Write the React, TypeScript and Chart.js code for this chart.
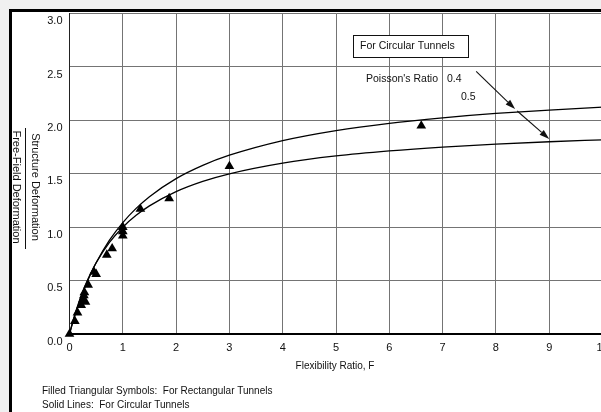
import React, { useEffect, useRef } from 'react';
import { Chart, registerables } from 'chart.js';

Chart.register(...registerables);

// ---- data ----
const flexRatioF = [0, 0.05, 0.1, 0.2, 0.3, 0.4, 0.5, 0.75, 1, 1.25, 1.5, 2, 2.5, 3, 4, 5, 6, 7, 8, 9, 10];
const circularNu04 = [0, 0.089, 0.171, 0.32, 0.45, 0.565, 0.667, 0.878, 1.043, 1.176, 1.286, 1.455, 1.579, 1.674, 1.811, 1.905, 1.973, 2.024, 2.065, 2.097, 2.124];
const circularNu05 = [0, 0.095, 0.182, 0.333, 0.462, 0.571, 0.667, 0.857, 1.0, 1.111, 1.2, 1.333, 1.429, 1.5, 1.6, 1.667, 1.714, 1.75, 1.778, 1.8, 1.818];

const rectF = [0.0, 0.1, 0.15, 0.22, 0.25, 0.27, 0.28, 0.3, 0.35, 0.46, 0.5, 0.7, 0.8, 1.0, 1.0, 1.0, 1.33, 1.87, 3.0, 6.6];
const rectR = [0.0, 0.12, 0.2, 0.27, 0.32, 0.36, 0.39, 0.3, 0.46, 0.58, 0.56, 0.74, 0.8, 0.92, 0.96, 1.0, 1.17, 1.27, 1.57, 1.95];

const xTickValues = [0, 1, 2, 3, 4, 5, 6, 7, 8, 9, 10];
const yTickValues = [0, 0.5, 1.0, 1.5, 2.0, 2.5, 3.0];

const yTitleNumerator = 'Structure Deformation';
const yTitleDenominator = 'Free-Field Deformation';
const xTitle = 'Flexibility Ratio, F';
const footerLines = ['Filled Triangular Symbols:  For Rectangular Tunnels', 'Solid Lines:  For Circular Tunnels'];
const boxLabel = 'For Circular Tunnels';
const poissonLabel = "Poisson's Ratio";
const nuLabels = ['0.4', '0.5'];
// arrow anchor points in data units [F, ratio]
const arrowStart = [7.63, 2.46];
const arrowTip1 = [8.36, 2.106];
const arrowStart2 = [8.4, 2.088];
const arrowTip2 = [9.0, 1.827];

const FONT = '"Liberation Sans", Arial, Helvetica, sans-serif';

function drawArrow(ctx: CanvasRenderingContext2D, x1: number, y1: number, x2: number, y2: number) {
  const ang = Math.atan2(y2 - y1, x2 - x1);
  const len = 10;
  const half = 3.2;
  const bx = x2 - Math.cos(ang) * len;
  const by = y2 - Math.sin(ang) * len;
  ctx.beginPath();
  ctx.moveTo(x1, y1);
  ctx.lineTo(bx, by);
  ctx.stroke();
  ctx.beginPath();
  ctx.moveTo(x2, y2);
  ctx.lineTo(bx + Math.sin(ang) * half, by - Math.cos(ang) * half);
  ctx.lineTo(bx - Math.sin(ang) * half, by + Math.cos(ang) * half);
  ctx.closePath();
  ctx.fill();
}

const decorPlugin = {
  id: 'figureDecor',
  beforeDraw(chart: any) {
    const { ctx, width, height } = chart;
    ctx.save();
    ctx.fillStyle = '#f0f0f0';
    ctx.fillRect(0, 0, width, height);
    ctx.fillStyle = '#ffffff';
    ctx.fillRect(1, 1, width, height);
    ctx.restore();
  },
  afterDraw(chart: any) {
    const { ctx, width, height } = chart;
    const xs = chart.scales.x;
    const ys = chart.scales.y;
    const px = (v: number) => xs.getPixelForValue(v);
    const py = (v: number) => ys.getPixelForValue(v);
    ctx.save();
    // frame
    ctx.fillStyle = '#000';
    ctx.fillRect(1, 1, 3, height);
    ctx.fillRect(1, 1, width, 3);

    ctx.fillStyle = '#111';
    ctx.strokeStyle = '#111';

    // y title (fraction, rotated)
    ctx.save();
    ctx.font = `11px ${FONT}`;
    ctx.textAlign = 'center';
    ctx.textBaseline = 'middle';
    ctx.translate(27, 179);
    ctx.rotate(Math.PI / 2);
    ctx.fillText(yTitleNumerator, 0, 0);
    ctx.restore();
    ctx.save();
    ctx.font = `11px ${FONT}`;
    ctx.textAlign = 'center';
    ctx.textBaseline = 'middle';
    ctx.translate(8.5, 179);
    ctx.rotate(Math.PI / 2);
    ctx.fillText(yTitleDenominator, 0, 0);
    ctx.restore();
    ctx.lineWidth = 1;
    ctx.beginPath();
    ctx.moveTo(17.5, 120);
    ctx.lineTo(17.5, 241);
    ctx.stroke();

    // x title
    ctx.font = `10px ${FONT}`;
    ctx.textAlign = 'center';
    ctx.textBaseline = 'middle';
    ctx.fillText(xTitle, 327, 358);

    // footer
    ctx.textAlign = 'left';
    ctx.fillText(footerLines[0], 34, 383);
    ctx.fillText(footerLines[1], 34, 397);

    // box
    ctx.fillStyle = '#fff';
    ctx.fillRect(345, 27, 115, 22);
    ctx.strokeStyle = '#111';
    ctx.lineWidth = 1;
    ctx.strokeRect(345.5, 27.5, 115, 22);
    ctx.fillStyle = '#111';
    ctx.font = `10.5px ${FONT}`;
    ctx.textAlign = 'left';
    ctx.fillText(boxLabel, 352, 38.5);

    ctx.fillText(poissonLabel, 358, 71);
    ctx.fillText(nuLabels[0], 439, 71);
    ctx.fillText(nuLabels[1], 453, 89);

    // arrows
    ctx.lineWidth = 1.1;
    drawArrow(ctx, px(arrowStart[0]), py(arrowStart[1]), px(arrowTip1[0]), py(arrowTip1[1]));
    drawArrow(ctx, px(arrowStart2[0]), py(arrowStart2[1]), px(arrowTip2[0]), py(arrowTip2[1]));
    ctx.restore();
  },
};

export default function App() {
  const ref = useRef<HTMLCanvasElement | null>(null);

  useEffect(() => {
    document.documentElement.style.overflow = 'hidden';
    document.body.style.background = '#f0f0f0';
    const canvas = ref.current;
    if (!canvas) return;
    const chart = new Chart(canvas, {
      type: 'scatter',
      data: {
        datasets: [
          {
            label: 'Circular, ν = 0.4',
            data: flexRatioF.map((f, i) => ({ x: f, y: circularNu04[i] })),
            showLine: true,
            borderColor: '#000',
            borderWidth: 1.3,
            pointRadius: 0,
            cubicInterpolationMode: 'monotone',
            fill: false,
          },
          {
            label: 'Circular, ν = 0.5',
            data: flexRatioF.map((f, i) => ({ x: f, y: circularNu05[i] })),
            showLine: true,
            borderColor: '#000',
            borderWidth: 1.3,
            pointRadius: 0,
            cubicInterpolationMode: 'monotone',
            fill: false,
          },
          {
            label: 'Rectangular',
            data: rectF.map((f, i) => ({ x: f, y: rectR[i] })),
            showLine: false,
            pointStyle: 'triangle',
            pointRadius: 5.6,
            backgroundColor: '#000',
            borderColor: '#000',
            borderWidth: 0,
            clip: false,
          },
        ],
      },
      options: {
        animation: false,
        responsive: false,
        devicePixelRatio: 1,
        layout: { padding: { left: 0, top: 3, right: 25.5, bottom: 0 } },
        plugins: { legend: { display: false }, tooltip: { enabled: false } },
        scales: {
          x: {
            type: 'linear',
            min: 0,
            max: 10,
            afterFit: (s: any) => {
              s.height = 78;
              s.paddingLeft = 0;
              s.paddingRight = 0;
              s.paddingTop = 0;
              s.paddingBottom = 0;
            },
            afterBuildTicks: (s: any) => { s.ticks = xTickValues.map((v) => ({ value: v })); },
            grid: { color: '#747474', lineWidth: 1, drawTicks: false },
            border: { display: true, color: '#000', width: 2 },
            ticks: {
              padding: 7,
              color: '#111',
              font: { family: FONT, size: 11 },
              callback: (v: any) => String(v),
            },
          },
          y: {
            type: 'linear',
            min: 0,
            max: 3,
            afterFit: (s: any) => {
              s.width = 61.5;
              s.paddingLeft = 0;
              s.paddingRight = 0;
              s.paddingTop = 0;
              s.paddingBottom = 0;
            },
            afterBuildTicks: (s: any) => { s.ticks = yTickValues.map((v) => ({ value: v })); },
            grid: { color: '#747474', lineWidth: 1, drawTicks: false },
            border: { display: true, color: '#222', width: 1 },
            ticks: {
              padding: 7,
              labelOffset: 7.5,
              color: '#111',
              font: { family: FONT, size: 11 },
              callback: (v: any) => Number(v).toFixed(1),
            },
          },
        },
      },
      plugins: [decorPlugin],
    } as any);
    return () => chart.destroy();
  }, []);

  return (
    <div style={{ position: 'fixed', left: 8, top: 8, width: 593, height: 404, overflow: 'hidden' }}>
      <canvas ref={ref} width={620} height={404} style={{ display: 'block', width: 620, height: 404 }} />
    </div>
  );
}
